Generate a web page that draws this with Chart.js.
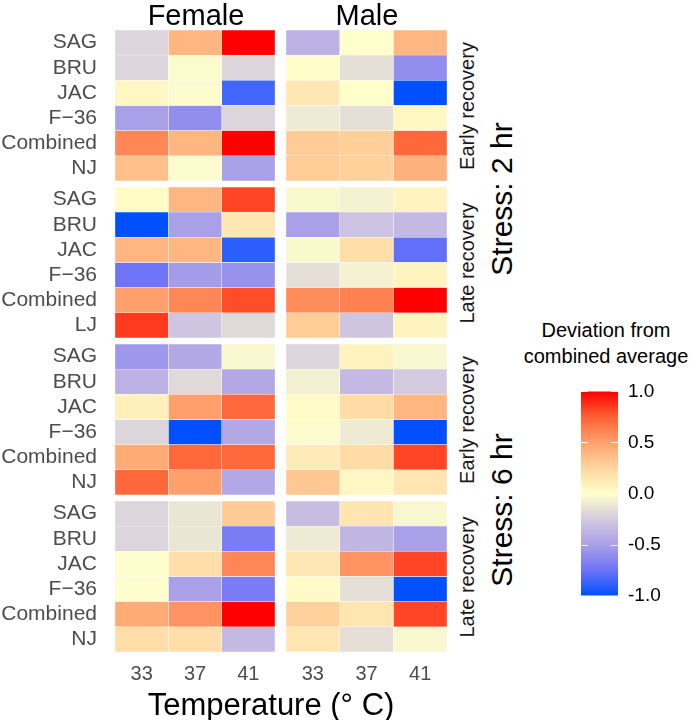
<!DOCTYPE html>
<html><head><meta charset="utf-8">
<script src="https://cdn.jsdelivr.net/npm/chart.js@4"></script>
<style>
body{margin:0;background:#fff;width:694px;height:720px;position:relative;overflow:hidden;font-family:'Liberation Sans',Arial,sans-serif;}
canvas{position:absolute;}
.t{position:absolute;white-space:nowrap;line-height:1;transform:translate(-50%,-50%);}
.r{transform:translate(-50%,-50%) rotate(-90deg);}
</style></head><body>
<script>
// ---------- data ----------
const temps = ['33', '37', '41'];
const rowsSet1 = ['SAG', 'BRU', 'JAC', 'F−36', 'Combined', 'NJ'];
const rowsSet2 = ['SAG', 'BRU', 'JAC', 'F−36', 'Combined', 'LJ'];
const sexes = ['Female', 'Male'];
const stressLabels = ['Stress: 2 hr', 'Stress: 6 hr'];
const recoveryLabels = ['Early recovery', 'Late recovery'];
const legendTicks = [-1, -0.5, 0, 0.5, 1];

const female2hEarly = [
  [-0.2, 0.4, 1.0],
  [-0.2, -0.02, -0.2],
  [0.05, -0.02, -0.85],
  [-0.5, -0.6, -0.2],
  [0.6, 0.4, 1.0],
  [0.35, -0.02, -0.5]
];
const male2hEarly = [
  [-0.4, 0.0, 0.4],
  [0.01, -0.15, -0.6],
  [0.15, 0.0, -1.0],
  [-0.1, -0.15, 0.05],
  [0.3, 0.28, 0.72],
  [0.3, 0.27, 0.42]
];
const female2hLate = [
  [0.02, 0.4, 0.82],
  [-1.0, -0.5, 0.15],
  [0.4, 0.4, -0.9],
  [-0.75, -0.52, -0.58],
  [0.5, 0.6, 0.8],
  [0.85, -0.28, -0.18]
];
const male2hLate = [
  [-0.03, -0.06, 0.07],
  [-0.5, -0.3, -0.35],
  [-0.03, 0.2, -0.78],
  [-0.15, -0.06, 0.07],
  [0.58, 0.62, 1.0],
  [0.3, -0.28, 0.07]
];
const female6hEarly = [
  [-0.55, -0.45, -0.04],
  [-0.4, -0.18, -0.45],
  [0.1, 0.5, 0.72],
  [-0.2, -1.0, -0.45],
  [0.45, 0.72, 0.72],
  [0.72, 0.5, -0.45]
];
const male6hEarly = [
  [-0.2, 0.08, -0.04],
  [-0.07, -0.35, -0.25],
  [0.03, 0.22, 0.4],
  [-0.02, -0.1, -1.0],
  [0.12, 0.22, 0.82],
  [0.32, 0.05, 0.16]
];
const female6hLate = [
  [-0.2, -0.12, 0.3],
  [-0.2, -0.12, -0.7],
  [-0.01, 0.2, 0.6],
  [-0.01, -0.5, -0.7],
  [0.45, 0.55, 1.0],
  [0.2, 0.2, -0.35]
];
const male6hLate = [
  [-0.33, 0.16, -0.04],
  [-0.1, -0.37, -0.5],
  [0.15, 0.55, 0.82],
  [0.03, -0.15, -1.0],
  [0.27, 0.16, 0.82],
  [0.15, -0.15, -0.04]
];

// ---------- colour scale ----------
const colourStops = [
  { v: -1.0, c: [0, 80, 255] },
  { v: -0.75, c: [110, 115, 248] },
  { v: -0.5, c: [170, 160, 232] },
  { v: -0.25, c: [212, 202, 224] },
  { v: 0.0, c: [255, 255, 204] },
  { v: 0.25, c: [255, 214, 160] },
  { v: 0.5, c: [255, 160, 108] },
  { v: 0.75, c: [255, 96, 52] },
  { v: 1.0, c: [255, 0, 0] }
];
function colourFor(v) {
  v = Math.max(-1, Math.min(1, v));
  for (let i = 0; i < colourStops.length - 1; i++) {
    const a = colourStops[i], b = colourStops[i + 1];
    if (v <= b.v) {
      const f = (v - a.v) / (b.v - a.v);
      const c = a.c.map((x, k) => Math.round(x + (b.c[k] - x) * f));
      return `rgb(${c[0]},${c[1]},${c[2]})`;
    }
  }
  return 'rgb(255,0,0)';
}

Chart.defaults.font.family = "'Liberation Sans', Arial, sans-serif";
Chart.defaults.animation = false;

const FONT = "'Liberation Sans', Arial, sans-serif";
const panelTops = [30, 187, 344, 501];
const panelH = 151;
const colLeft = [115, 286];
const colW = [160, 161];
const panels = [
  { rows: rowsSet1, vals: [female2hEarly, male2hEarly] },
  { rows: rowsSet2, vals: [female2hLate, male2hLate] },
  { rows: rowsSet1, vals: [female6hEarly, male6hEarly] },
  { rows: rowsSet1, vals: [female6hLate, male6hLate] }
];

function addText(txt, x, y, size, colour, rotate) {
  const d = document.createElement('div');
  d.className = 't' + (rotate ? ' r' : '');
  d.textContent = txt;
  d.style.left = x + 'px';
  d.style.top = y + 'px';
  d.style.fontSize = size + 'px';
  d.style.color = colour;
  document.body.appendChild(d);
}

function noPad(s) { s.paddingTop = 0; s.paddingBottom = 0; s.paddingLeft = 0; s.paddingRight = 0; }

function makeFacet(pi, si) {
  const p = panels[pi];
  const vals = p.vals[si];
  const showY = si === 0;
  const showX = pi === panels.length - 1;
  const xAxisH = 40;
  const yAxisW = showY ? colLeft[0] : 0;
  const cv = document.createElement('canvas');
  const w = colW[si] + yAxisW;
  const h = panelH + (showX ? xAxisH : 0);
  cv.width = w; cv.height = h;
  cv.style.left = (colLeft[si] - yAxisW) + 'px';
  cv.style.top = panelTops[pi] + 'px';
  cv.style.width = w + 'px'; cv.style.height = h + 'px';
  document.body.appendChild(cv);
  const datasets = temps.map((t, c) => ({
    label: t,
    data: p.rows.map(() => [c, c + 1]),
    backgroundColor: vals.map(r => colourFor(r[c])),
    borderColor: 'rgba(255,255,255,0.75)',
    borderWidth: 0.5,
    borderSkipped: false,
    barPercentage: 1,
    categoryPercentage: 1,
    grouped: false
  }));
  new Chart(cv, {
    type: 'bar',
    data: { labels: p.rows, datasets },
    options: {
      indexAxis: 'y',
      responsive: false,
      events: [],
      layout: { padding: 0 },
      plugins: { legend: { display: false }, tooltip: { enabled: false } },
      scales: {
        x: {
          type: 'linear', min: 0, max: temps.length, offset: false,
          display: showX,
          grid: { display: false, drawTicks: false },
          border: { display: false },
          afterBuildTicks: s => { s.ticks = temps.map((t, i) => ({ value: i + 0.5 })); },
          afterFit: s => { if (showX) s.height = xAxisH; noPad(s); },
          ticks: {
            autoSkip: false, maxRotation: 0, padding: 10,
            color: '#4d4d4d', font: { size: 20, family: FONT },
            callback: v => temps[Math.floor(v)]
          }
        },
        y: {
          type: 'category',
          display: showY,
          grid: { display: false, drawTicks: false },
          border: { display: false },
          afterFit: s => { if (showY) s.width = yAxisW; noPad(s); },
          ticks: { padding: 18, color: '#4d4d4d', font: { size: 21, family: FONT }, autoSkip: false }
        }
      }
    }
  });
}

for (let pi = 0; pi < panels.length; pi++) for (let si = 0; si < 2; si++) makeFacet(pi, si);

// ---------- texts ----------
addText(sexes[0], 196, 15, 29, '#000');
addText(sexes[1], 367, 15, 29, '#000');
addText('Temperature (° C)', 271, 704, 31, '#000');
panelTops.forEach((t, i) => addText(recoveryLabels[i % 2], 467, t + panelH / 2, 20, '#1a1a1a', true));
addText(stressLabels[0], 502, 199, 30, '#000', true);
addText(stressLabels[1], 502, 510, 30, '#000', true);
addText('Deviation from', 606, 330, 20, '#000');
addText('combined average', 606, 356, 20, '#000');

// ---------- colour bar ----------
(function () {
  const cv = document.createElement('canvas');
  const w = 110, h = 247;
  cv.width = w; cv.height = h;
  cv.style.left = '581px'; cv.style.top = '370px';
  cv.style.width = w + 'px'; cv.style.height = h + 'px';
  document.body.appendChild(cv);
  const barTicks = {
    id: 'barTicks',
    afterDatasetsDraw(chart) {
      const ca = chart.chartArea, ys = chart.scales.y, ctx = chart.ctx;
      ctx.save();
      ctx.strokeStyle = 'rgba(255,255,255,0.85)';
      ctx.lineWidth = 1;
      legendTicks.forEach(v => {
        const y = Math.round(ys.getPixelForValue(v)) + 0.5;
        ctx.beginPath();
        ctx.moveTo(ca.left, y); ctx.lineTo(ca.left + 7, y);
        ctx.moveTo(ca.right - 7, y); ctx.lineTo(ca.right, y);
        ctx.stroke();
      });
      ctx.restore();
    }
  };
  new Chart(cv, {
    type: 'bar',
    data: {
      labels: ['scale'],
      datasets: [{
        data: [[legendTicks[0], legendTicks[legendTicks.length - 1]]],
        backgroundColor: context => {
          const chart = context.chart;
          if (!chart.chartArea) return 'rgba(0,0,0,0)';
          const ys = chart.scales.y;
          const g = chart.ctx.createLinearGradient(0, ys.getPixelForValue(-1), 0, ys.getPixelForValue(1));
          colourStops.forEach(s => g.addColorStop((s.v + 1) / 2, colourFor(s.v)));
          return g;
        },
        borderWidth: 0,
        barPercentage: 1,
        categoryPercentage: 1
      }]
    },
    options: {
      responsive: false,
      events: [],
      layout: { padding: { top: 12, bottom: 12, left: 0, right: 0 } },
      plugins: { legend: { display: false }, tooltip: { enabled: false } },
      scales: {
        x: { display: false },
        y: {
          position: 'right', min: -1, max: 1,
          grid: { display: false, drawTicks: false },
          border: { display: false },
          afterBuildTicks: s => { s.ticks = legendTicks.map(v => ({ value: v })); },
          afterFit: s => { s.width = 73; },
          ticks: { padding: 10, color: '#000', font: { size: 19, family: FONT }, callback: v => v.toFixed(1) }
        }
      }
    },
    plugins: [barTicks]
  });
})();
</script>
</body></html>
